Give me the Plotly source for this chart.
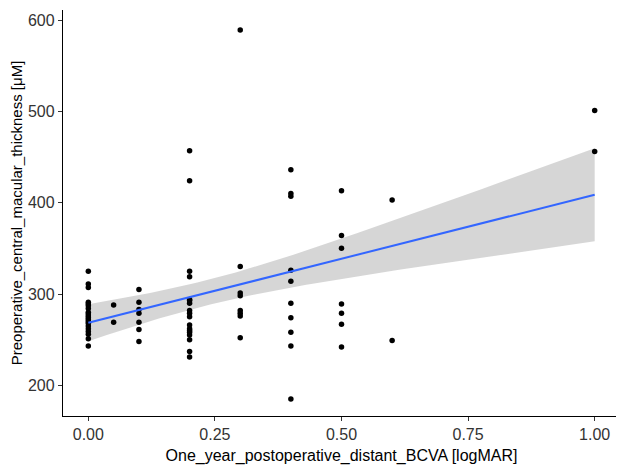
import numpy as np
import plotly.graph_objects as go

bcva = ([0.0] * 20 + [0.05] * 2 + [0.1] * 7 + [0.2] * 18 + [0.3] * 8 +
        [0.4] * 10 + [0.5] * 7 + [0.6] * 2 + [1.0] * 2)
cmt = [
    # 0.00
    325, 311, 307, 291, 289, 287, 284, 280, 278, 276, 274, 272, 270, 268, 265, 262, 259, 256, 251, 243,
    # 0.05
    288, 269,
    # 0.10
    305, 291, 283, 279, 269, 261, 248,
    # 0.20
    457, 424, 325, 319, 294, 290, 282, 279, 275, 266, 262, 258, 255, 250, 237, 231, 293, 260,
    # 0.30
    589, 330, 301, 298, 282, 279, 276, 252,
    # 0.40
    436, 410, 407, 326, 314, 290, 274, 258, 243, 185,
    # 0.50
    413, 364, 350, 289, 279, 267, 242,
    # 0.60
    403, 249,
    # 1.00
    501, 456,
]

x = np.array(bcva, dtype=float)
y = np.array(cmt, dtype=float)
n = len(x)
xbar = x.mean()
sxx = ((x - xbar) ** 2).sum()
slope = ((x - xbar) * (y - y.mean())).sum() / sxx
intercept = y.mean() - slope * xbar
resid = y - (intercept + slope * x)
s = np.sqrt((resid ** 2).sum() / (n - 2))
tq = 1.993

xs = np.linspace(x.min(), x.max(), 80)
fit = intercept + slope * xs
se = s * np.sqrt(1 / n + (xs - xbar) ** 2 / sxx)
upper = fit + tq * se
lower = fit - tq * se

fig = go.Figure()
fig.add_trace(go.Scatter(
    x=np.concatenate([xs, xs[::-1]]), y=np.concatenate([upper, lower[::-1]]),
    fill="toself", fillcolor="rgba(153,153,153,0.4)", line=dict(width=0),
    mode="lines", hoverinfo="skip", showlegend=False))
fig.add_trace(go.Scatter(
    x=x, y=y, mode="markers",
    marker=dict(color="black", size=5.5, line=dict(width=0)), showlegend=False))
fig.add_trace(go.Scatter(
    x=xs, y=fit, mode="lines", line=dict(color="#3366FF", width=2), showlegend=False))

axis_common = dict(
    showgrid=False, zeroline=False, showline=True, linecolor="black", linewidth=1.3,
    ticks="outside", ticklen=4, tickcolor="#333333", tickwidth=1,
    tickfont=dict(family="Liberation Sans, Arial", size=16, color="#333333"),
    mirror=False,
)

fig.update_layout(
    width=624, height=469,
    margin=dict(l=55, r=12, t=2, b=61),
    paper_bgcolor="white", plot_bgcolor="white",
    xaxis=dict(
        range=[-0.05, 1.05], tickvals=[0, 0.25, 0.5, 0.75, 1.0],
        ticktext=["0.00", "0.25", "0.50", "0.75", "1.00"],
        title=dict(text="One_year_postoperative_distant_BCVA [logMAR]",
                   font=dict(family="Liberation Sans, Arial", size=16, color="black"),
                   standoff=7),
        **axis_common),
    yaxis=dict(
        range=[166.4, 611], tickvals=[200, 300, 400, 500, 600],
        title=dict(text="Preoperative_central_macular_thickness [μM]",
                   font=dict(family="Liberation Sans, Arial", size=15, color="black"),
                   standoff=6),
        **axis_common),
)

fig.write_html("out.html")
